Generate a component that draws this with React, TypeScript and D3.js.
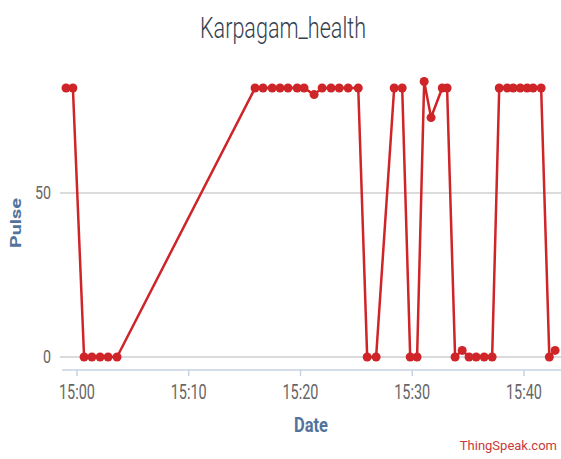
import React from 'react';
import * as d3 from 'd3';

const times = [
  '14:59:01', '14:59:38',
  '15:00:38', '15:01:20', '15:02:04', '15:02:47', '15:03:35',
  '15:15:56', '15:16:39', '15:17:28', '15:18:10', '15:18:53', '15:19:42', '15:20:19',
  '15:21:13', '15:21:56', '15:22:44', '15:23:28', '15:24:16', '15:25:10',
  '15:25:58', '15:26:46',
  '15:28:23', '15:29:06',
  '15:29:49', '15:30:26',
  '15:31:04', '15:31:41', '15:32:41', '15:33:07',
  '15:33:50', '15:34:28', '15:35:05', '15:35:43', '15:36:26', '15:37:09',
  '15:37:47', '15:38:30', '15:39:02', '15:39:40', '15:40:17', '15:40:49', '15:41:32',
  '15:42:16', '15:42:47',
];
const pulse = [
  82, 82,
  0, 0, 0, 0, 0,
  82, 82, 82, 82, 82, 82, 82,
  80, 82, 82, 82, 82, 82,
  0, 0,
  82, 82,
  0, 0,
  84, 73, 82, 82,
  0, 2, 0, 0, 0, 0,
  82, 82, 82, 82, 82, 82, 82,
  0, 2,
];
const xTicks = ['15:00', '15:10', '15:20', '15:30', '15:40'];
const yTicks = [0, 50];

const parse = d3.timeParse('%H:%M:%S');
const parseTick = d3.timeParse('%H:%M');

const App = () => {
  const width = 561;
  const height = 459;

  // plot bounds
  const left = 60;
  const right = 561;
  const axisY = 370;

  const x = d3.scaleTime()
    .domain([parseTick('15:00') as Date, parseTick('15:40') as Date])
    .range([77, 524]);
  const y = d3.scaleLinear().domain([0, 50]).range([357, 193]);

  const pts = times.map((t, i) => ({ t: parse(t) as Date, v: pulse[i] }));
  const line = d3.line<{ t: Date; v: number }>()
    .x(d => x(d.t))
    .y(d => y(d.v));

  const red = '#cf2428';
  const axisFont = 'Roboto, "Liberation Sans", sans-serif';

  return (
    <svg width={width} height={height}
      style={{ position: 'absolute', left: 0, top: 0, background: '#fff' }}>
      {/* title */}
      <text x={283} y={38} textAnchor="middle" fontFamily={axisFont} fontWeight={300}
        fontSize={29} fill="#34414f" textLength={166} lengthAdjust="spacingAndGlyphs">
        Karpagam_health
      </text>

      {/* grid */}
      {yTicks.map(v => (
        <line key={v} x1={left} x2={right} y1={y(v)} y2={y(v)} stroke="#cfcfcf" strokeWidth={1.5} />
      ))}
      {yTicks.map(v => (
        <text key={'l' + v} x={51} y={y(v) + 6} textAnchor="end" fontFamily={axisFont}
          fontSize={18} fill="#666" textLength={String(v).length * 8}
          lengthAdjust="spacingAndGlyphs">
          {v}
        </text>
      ))}

      {/* x axis */}
      <line x1={left + 2} x2={right} y1={axisY} y2={axisY} stroke="#c5d3e3" strokeWidth={1.5} />
      {xTicks.map(t => {
        const px = x(parseTick(t) as Date);
        return (
          <g key={t}>
            <line x1={px} x2={px} y1={axisY} y2={axisY + 6} stroke="#c5d3e3" strokeWidth={1.5} />
            <text x={px} y={399} textAnchor="middle" fontFamily={axisFont} fontSize={20}
              fill="#666" textLength={36} lengthAdjust="spacingAndGlyphs">
              {t}
            </text>
          </g>
        );
      })}

      {/* axis titles */}
      <text x={311} y={432} textAnchor="middle" fontFamily={axisFont} fontSize={20}
        fontWeight="bold" fill="#52739b" textLength={34} lengthAdjust="spacingAndGlyphs">
        Date
      </text>
      <text transform="translate(21,223) rotate(-90)" textAnchor="middle" fontFamily={axisFont}
        fontSize={15} fontWeight="bold" fill="#52739b" textLength={50}
        lengthAdjust="spacingAndGlyphs">
        Pulse
      </text>

      {/* series */}
      <path d={line(pts) || ''} fill="none" stroke={red} strokeWidth={2.5} strokeLinejoin="round" />
      {pts.map((d, i) => (
        <circle key={i} cx={x(d.t)} cy={y(d.v)} r={4.5} fill={red} />
      ))}

      {/* credit */}
      <text x={557} y={450} textAnchor="end" fontFamily={axisFont} fontSize={13}
        fill="#c93a3a">
        ThingSpeak.com
      </text>
    </svg>
  );
};

export default App;
